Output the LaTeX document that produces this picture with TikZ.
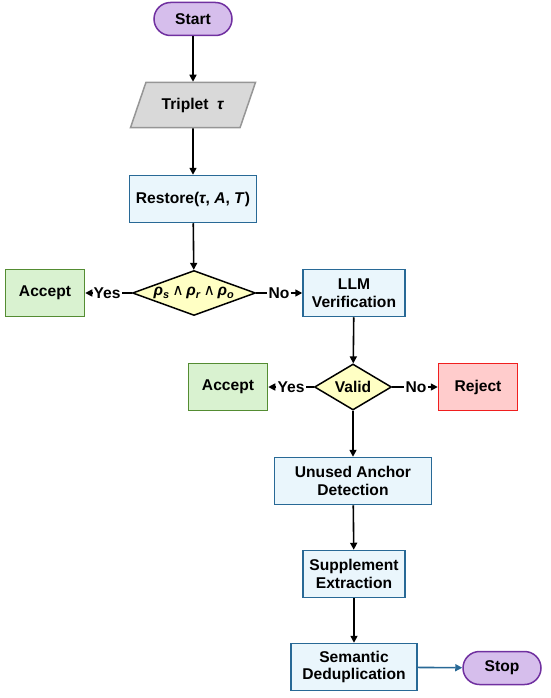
\documentclass[tikz,border=0pt]{standalone}
\usepackage{fontspec}
\setmainfont{Liberation Sans}
\newfontfamily\dejavu{DejaVu Sans}
\usetikzlibrary{arrows.meta,shapes.geometric,positioning}
\definecolor{termfill}{RGB}{214,190,236}
\definecolor{termline}{RGB}{112,48,160}
\definecolor{iofill}{RGB}{217,217,217}
\definecolor{ioline}{RGB}{150,150,150}
\definecolor{procfill}{RGB}{234,246,252}
\definecolor{procline}{RGB}{40,105,150}
\definecolor{decfill}{RGB}{255,255,196}
\definecolor{okfill}{RGB}{217,242,208}
\definecolor{okline}{RGB}{84,140,50}
\definecolor{nofill}{RGB}{255,204,204}
\definecolor{noline}{RGB}{240,30,30}
\newcommand{\conj}{{\dejavu\itshape\mdseries\,∧\,}}

\begin{document}
\begin{tikzpicture}[x=1pt, y=-1pt,
    font=\bfseries\fontsize{15.6}{17.5}\selectfont,
    terminal/.style={rectangle, rounded corners=16.5pt, draw=termline, fill=termfill, minimum width=78pt, minimum height=33pt, line width=1.5pt},
    inputbox/.style={trapezium, trapezium left angle=62, trapezium right angle=118, trapezium stretches=true, draw=ioline, fill=iofill, minimum width=125pt, minimum height=45pt, line width=1.5pt},
    process/.style={rectangle, draw=procline, fill=procfill, minimum height=47pt, align=center, line width=1.5pt},
    decision/.style={diamond, draw=black, fill=decfill, inner sep=0pt, aspect=2.7, line width=1.5pt},
    acceptbox/.style={rectangle, draw=okline, fill=okfill, minimum width=79pt, minimum height=47pt, line width=1.5pt},
    rejectbox/.style={rectangle, draw=noline, fill=nofill, minimum width=79pt, minimum height=47pt, line width=1.5pt},
    branch/.style={inner sep=1pt},
    flow/.style={line width=1.6pt, -{Triangle[length=7pt,width=7pt]}},
    link/.style={line width=1.6pt}]

\useasboundingbox (0,0) rectangle (550,698);

% Start and input
\node[terminal] (start) at (193,19) {Start};
\node[inputbox] (trip) at (193,105) {Triplet\ \ \textit{τ}};
\node[process, minimum width=127pt] (rest) at (193,199) {Restore(\textit{τ}, \textit{A}, \textit{T})};

% First check
\node[decision, minimum width=123pt, minimum height=45pt] (chk) at (194,293) {\textit{ρ}\textsubscript{\textit{s}}\conj\textit{ρ}\textsubscript{\textit{r}}\conj\textit{ρ}\textsubscript{\textit{o}}};
\node[acceptbox] (acc1) at (45,293) {Accept};
\node[process, minimum width=102pt] (llm) at (354,293) {LLM\\Verification};
\node[branch] (yes1) at (107,293) {Yes};
\node[branch] (no1) at (279,293) {No};

% Second check
\node[decision, minimum width=77pt, minimum height=46pt] (valid) at (353,387) {Valid};
\node[acceptbox] (acc2) at (228,387) {Accept};
\node[rejectbox] (rej) at (478,387) {Reject};
\node[branch] (yes2) at (291,387) {Yes};
\node[branch] (no2) at (416,387) {No};

% Post processing
\node[process, minimum width=157pt] (unused) at (353,481) {Unused Anchor\\Detection};
\node[process, minimum width=102pt] (supp) at (354,574) {Supplement\\Extraction};
\node[process, minimum width=126pt] (dedup) at (354,667) {Semantic\\Deduplication};
\node[terminal] (stop) at (502,668) {Stop};

% Connectors
\draw[flow] (start) -- (trip);
\draw[flow] (trip) -- (rest);
\draw[flow] (rest) -- (chk);
\draw[link] (chk.west) -- (yes1.east);
\draw[flow] (yes1.west) -- (acc1.east);
\draw[link] (chk.east) -- (no1.west);
\draw[flow] (no1.east) -- (llm.west);
\draw[flow] (llm) -- (valid);
\draw[link] (valid.west) -- (yes2.east);
\draw[flow] (yes2.west) -- (acc2.east);
\draw[link] (valid.east) -- (no2.west);
\draw[flow] (no2.east) -- (rej.west);
\draw[flow] (valid) -- (unused);
\draw[flow] (unused) -- (supp);
\draw[flow] (supp) -- (dedup);
\draw[flow, procline] (dedup) -- (stop);

\end{tikzpicture}
\end{document}
